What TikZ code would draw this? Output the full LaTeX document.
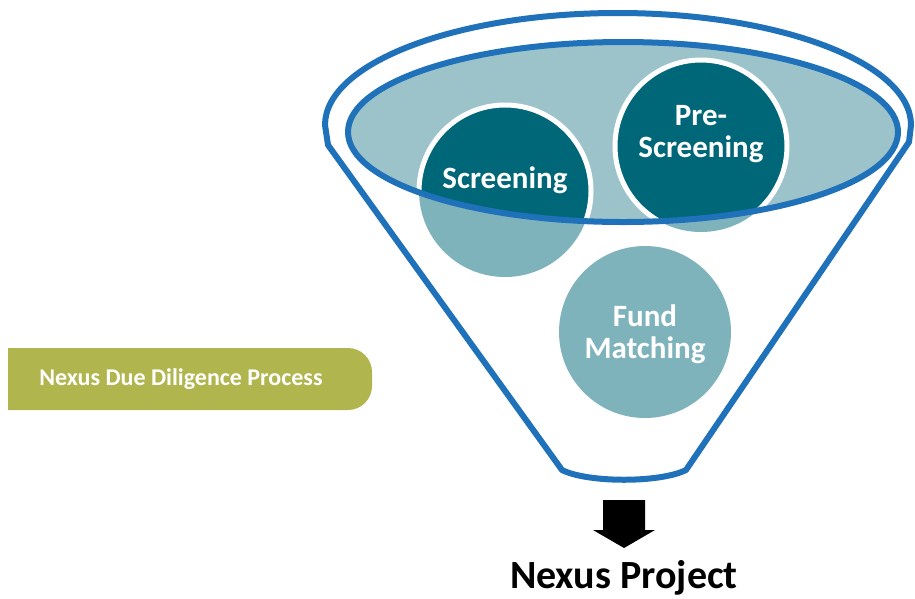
\documentclass[tikz,border=0pt]{standalone}
\usepackage{fontspec}
\setmainfont{Carlito}
\usetikzlibrary{positioning}
\tikzset{
  stagedisc/.style={circle, minimum size=172pt, inner sep=0pt},
  stagetext/.style={text=white, font=\bfseries\fontsize{31}{32}\selectfont, align=center},
}
\begin{document}
\begin{tikzpicture}[x=1pt,y=-1pt]
\definecolor{FunnelBlue}{RGB}{31,113,186}
\definecolor{DarkTeal}{RGB}{0,103,120}
\definecolor{LightTeal}{RGB}{127,179,188}
\definecolor{RimTeal}{RGB}{157,195,202}
\definecolor{MyOlive}{RGB}{176,181,78}
\useasboundingbox (0,0) rectangle (915,598);
% mouth of the funnel
\fill[RimTeal] (623,132) ellipse [x radius=275, y radius=90];
\foreach \name/\x/\y in {scr/505/191, pre/701/146, fund/645/332}{
\node[stagedisc, fill=LightTeal] (\name) at (\x,\y) {};
}
\begin{scope}
\clip (623,132) ellipse [x radius=275, y radius=90];
\foreach \name in {scr, pre}{
\node[stagedisc, fill=DarkTeal, draw=white, line width=5pt] at (\name) {};
}
\end{scope}
\draw[FunnelBlue, line width=6pt] (623,132) ellipse [x radius=275, y radius=90];
\draw[FunnelBlue, line width=6pt, line join=round] (562,470) -- (328,145) -- (325,125) arc[start angle=180, end angle=360, x radius=293, y radius=112] -- (909,142) -- (686,470) .. controls (660,483) and (588,483) .. cycle;
% stage labels
\node[stagetext] (scrtext) at ([yshift=11pt]scr.center) {Screening};
\node[stagetext] (pretext) at ([yshift=12pt]pre.center) {Pre-\\Screening};
\node[stagetext] (fundtext) at ([yshift=-2pt]fund.center) {Fund\\Matching};
% side label
\fill[MyOlive] (8,348) -- (8,410) [rounded corners=24pt] -- (372,410) -- (372,348) [sharp corners] -- cycle;
\node[text=white, font=\bfseries\fontsize{24}{28}\selectfont] (ddp) at (181,379) {Nexus Due Diligence Process};
% output
\fill[black] (603,500) -- (645,500) -- (645,530) -- (655,530) -- (624,548) -- (593,530) -- (603,530) -- cycle;
\node[font=\bfseries\fontsize{40}{44}\selectfont] (proj) at (624,578) {Nexus Project};
\end{tikzpicture}
\end{document}
